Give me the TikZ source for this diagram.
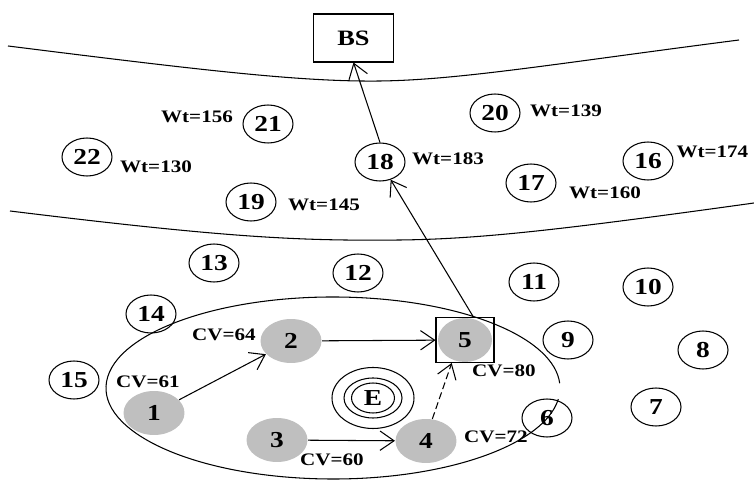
\documentclass[tikz,border=0pt]{standalone}
\usepackage{fontspec}
\setmainfont{Liberation Serif}[FakeStretch=1.2]
\usetikzlibrary{arrows.meta,shapes.geometric}

\begin{document}
\begin{tikzpicture}[x=0.02cm, y=-0.02cm, line width=0.6pt,
        sensor/.style={ellipse, draw, minimum width=1cm, minimum height=0.76cm, inner sep=0pt, font=\bfseries\fontsize{13}{13}\selectfont},
        member/.style={ellipse, fill=gray!50, minimum width=1.22cm, minimum height=0.88cm, inner sep=0pt, font=\bfseries\fontsize{13}{13}\selectfont},
        lbl/.style={inner sep=0pt, font=\bfseries\fontsize{10}{10}\selectfont},
        hop/.style={-{Straight Barb[length=8pt,width=11pt]}}]

        \useasboundingbox (0,0) rectangle (754,482);

        %===========================
        % Ring boundaries
        %===========================

        \draw (8,46) .. controls (200,70) and (300,82) .. (380,81) .. controls (460,80) and (560,63) .. (739,40);
        \draw (10,211) .. controls (230,238) and (300,241) .. (400,240) .. controls (480,239) and (560,230) .. (754,203);

        %===========================
        % Base station and outer ring
        %===========================

        \node (bs) at (353.5,38) [draw, rectangle, minimum width=1.6cm, minimum height=0.96cm, font=\bfseries\fontsize{12.5}{12.5}\selectfont]{BS};

        \node (n21) at (268,124) [sensor]{21};
        \node at (197,117) [lbl]{Wt=156};
        \node (n20) at (495,113) [sensor]{20};
        \node at (566,111) [lbl]{Wt=139};
        \node (n22) at (87,157) [sensor]{22};
        \node at (156,167) [lbl]{Wt=130};
        \node (n18) at (380,162) [sensor]{18};
        \node at (448,159) [lbl]{Wt=183};
        \node (n16) at (648,161) [sensor]{16};
        \node at (676,152) [lbl, anchor=west]{Wt=174};
        \node (n17) at (531,183) [sensor]{17};
        \node at (605,193) [lbl]{Wt=160};
        \node (n19) at (251,202) [sensor]{19};
        \node at (324,205) [lbl]{Wt=145};

        %===========================
        % Inner ring
        %===========================

        \node (n13) at (214,263) [sensor]{13};
        \node (n12) at (358,273) [sensor]{12};
        \node (n11) at (534,282) [sensor]{11};
        \node (n10) at (648,287) [sensor]{10};
        \node (n14) at (151,314) [sensor]{14};
        \node (n9) at (568,340) [sensor]{9};
        \node (n8) at (703,350) [sensor]{8};
        \node (n15) at (74,380) [sensor]{15};
        \node (n7) at (656,407) [sensor]{7};
        \node (n6) at (547,418) [sensor]{6};

        % Event and its rings
        \node (ev) at (373,398) [ellipse, draw, minimum width=0.86cm, minimum height=0.6cm, inner sep=0pt, font=\bfseries\fontsize{13}{13}\selectfont]{E};
        \draw (ev.center) ellipse [x radius=29, y radius=20];
        \draw (ev.center) ellipse [x radius=41, y radius=30.5];

        % Cluster members
        \node (n1) at (154,413) [member]{1};
        \node at (148,382) [lbl]{CV=61};
        \node (n2) at (291,341) [member]{2};
        \node at (224,335) [lbl]{CV=64};
        \node (n3) at (277,440) [member]{3};
        \node at (332,460) [lbl]{CV=60};
        \node (n4) at (426,441) [member]{4};
        \node at (496,437) [lbl]{CV=72};
        \node (n5) at (465,340) [member, minimum width=1.08cm]{5};
        \node (b5) at (465,340) [draw, rectangle, minimum width=1.16cm, minimum height=0.9cm]{};
        \node at (504,371) [lbl]{CV=80};

        % Cluster region
        \draw (333,388) ++(7:227 and 91) arc[start angle=7, end angle=357, x radius=227, y radius=91];

        %===========================
        % Routes
        %===========================

        \draw[hop] (n1) -- (n2);
        \draw[hop] (n2) -- (b5);
        \draw[hop] (n3) -- (n4);
        \draw[hop, dash pattern=on 4pt off 2pt] (n4.74) -- (b5.-120);
        \draw[hop] (b5.70) -- (n18);
        \draw[hop] (n18.north) -- (bs.south);

\end{tikzpicture}
\end{document}
